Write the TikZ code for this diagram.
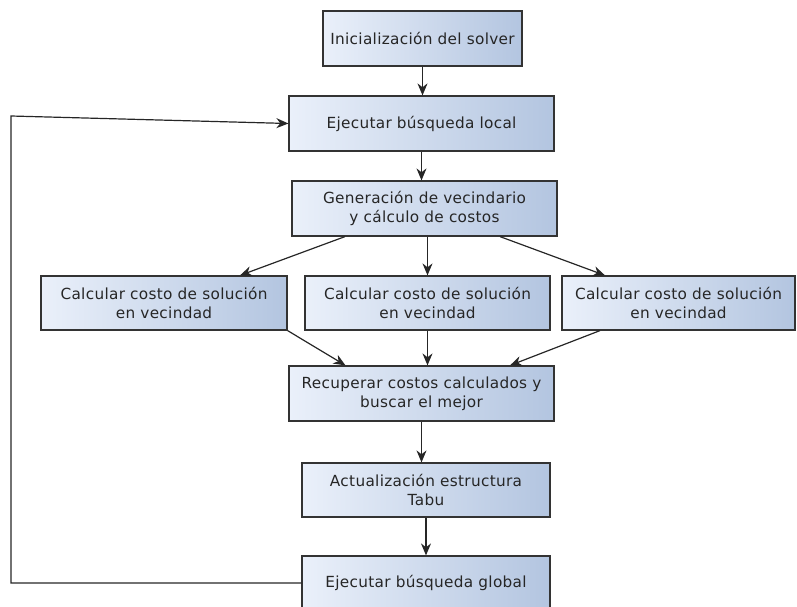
\documentclass[tikz,border=0pt]{standalone}
\usepackage{fontspec}
\setmainfont{DejaVu Sans}[LetterSpace=2]
\usetikzlibrary{arrows.meta}
\begin{document}
\begin{tikzpicture}[x=1pt,y=-1pt,
  procbox/.style={draw=black!80, line width=1.2pt,
    rectangle, inner sep=2pt, align=center, text=black!85,
    font=\fontsize{15.3}{19}\selectfont},
  flow/.style={draw=black!85, line width=1.2pt, -{Stealth[length=12pt,width=10pt]}}]
\useasboundingbox (0,0) rectangle (797,607);
\clip (0,0) rectangle (797,607);
\definecolor{boxright}{HTML}{B3C5E0}
\definecolor{boxleft}{HTML}{EAF0FA}
\tikzset{procbox/.append style={left color=boxleft, right color=boxright}}
\node[procbox, minimum width=199pt, minimum height=55pt] (init) at (422.5,38.5) {Inicialización del solver};
\node[procbox, minimum width=265pt, minimum height=55pt] (local) at (421.5,123.5) {Ejecutar búsqueda local};
\node[procbox, minimum width=265pt, minimum height=55pt] (gen) at (424.5,208.5) {Generación de vecindario\\y cálculo de costos};
\node[procbox, minimum width=246pt, minimum height=54pt] (cl) at (164,303) {Calcular costo de solución\\en vecindad};
\node[procbox, minimum width=245pt, minimum height=54pt] (cm) at (427.5,303) {Calcular costo de solución\\en vecindad};
\node[procbox, minimum width=233pt, minimum height=54pt] (cr) at (678.5,303) {Calcular costo de solución\\en vecindad};
\node[procbox, minimum width=265pt, minimum height=55pt] (rec) at (421.5,393.5) {Recuperar costos calculados y\\buscar el mejor};
\node[procbox, minimum width=248pt, minimum height=54pt] (tabu) at (426,490) {Actualización estructura\\Tabu};
\node[procbox, minimum width=248pt, minimum height=54pt] (glob) at (426,583) {Ejecutar búsqueda global};
\coordinate (corner) at (11,116);

\draw[flow] (init.south) -- (init.south |- local.north);
\draw[flow] (local.south) -- (local.south |- gen.north);
\draw[flow] ([xshift=-79.5pt]gen.south) -- ([xshift=76pt]cl.north);
\draw[flow] (cm.north |- gen.south) -- (cm.north);
\draw[flow] ([xshift=75.5pt]gen.south) -- ([xshift=-73.5pt]cr.north);
\draw[flow] (cl.south east) -- ([xshift=-76pt]rec.north);
\draw[flow] (cm.south) -- (cm.south |- rec.north);
\draw[flow] ([xshift=-78.5pt]cr.south) -- ([xshift=88.5pt]rec.north);
\draw[flow] (rec.south) -- (rec.south |- tabu.north);
\draw[flow] (tabu.south) -- (glob.north);
\draw[flow] (glob.west) -| (corner) -- (local.west);
\end{tikzpicture}
\end{document}
